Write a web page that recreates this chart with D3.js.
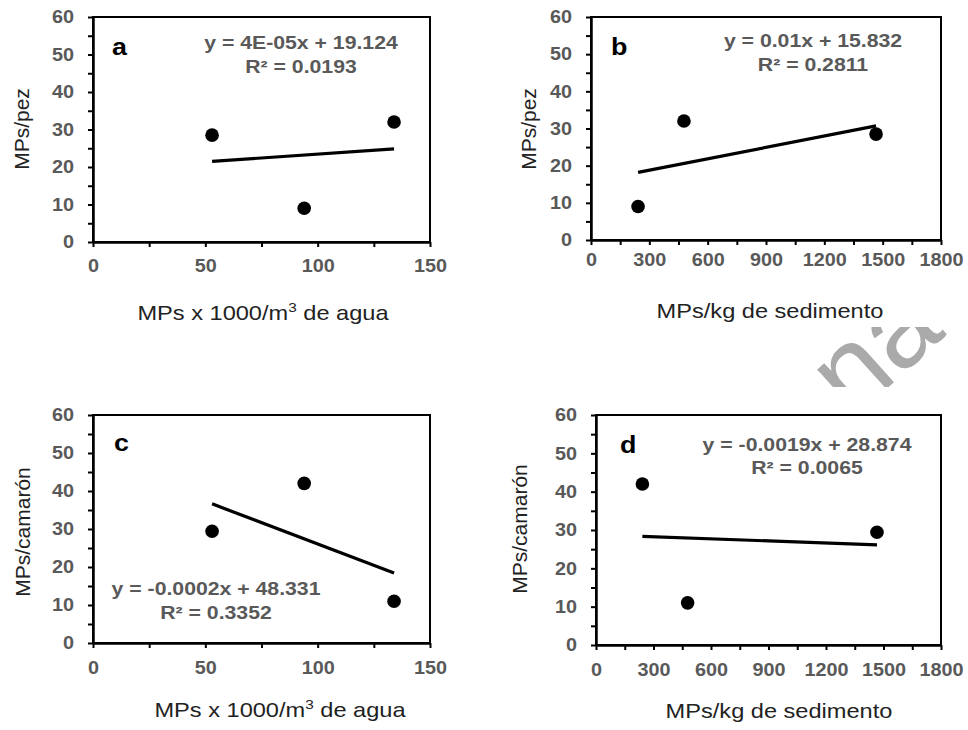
<!DOCTYPE html>
<html>
<head>
<meta charset="utf-8">
<script src="https://cdn.jsdelivr.net/npm/d3@7"></script>
<style>
  body { margin: 0; background: #fff; }
  svg { display: block; font-family: "Liberation Sans", Arial, sans-serif; }
</style>
</head>
<body>
<div id="chart"></div>
<script>
// datos por sitio (sitio 1, 2, 3)
const aguaMPs = [53, 94, 134];          // MPs x 1000/m3 de agua
const sedimentoMPs = [1466, 242, 478];  // MPs/kg de sedimento
const pezMPs = [28.5, 9, 32];           // MPs/pez
const camaronMPs = [29.4, 42, 11];      // MPs/camarón

const etiquetas = ["a", "b", "c", "d"];
const ecuaciones = ["y = 4E-05x + 19.124", "y = 0.01x + 15.832", "y = -0.0002x + 48.331", "y = -0.0019x + 28.874"];
const r2 = ["R² = 0.0193", "R² = 0.2811", "R² = 0.3352", "R² = 0.0065"];
const yTicks = [0, 10, 20, 30, 40, 50, 60];
const xTicksAgua = [0, 50, 100, 150];
const xTicksSed = [0, 300, 600, 900, 1200, 1500, 1800];

const width = 968, height = 730;
const svg = d3.select("#chart").append("svg")
    .attr("width", width).attr("height", height);

// marca de agua (apenas visible entre los paneles)
svg.append("clipPath").attr("id", "wm")
    .append("rect").attr("x", 740).attr("y", 327).attr("width", 228).attr("height", 60);
svg.append("g").attr("clip-path", "url(#wm)")
    .append("text")
    .attr("transform", "translate(852,420) rotate(-42)")
    .attr("font-size", 115).attr("fill", "#aaa")
    .text("na");

const paneles = [
    {x: aguaMPs, y: pezMPs, xTicks: xTicksAgua, xStep: 25, yTitle: "MPs/pez", agua: true, pad: 12,
     l: 93, r: 430, t: 17, b: 242, eq: [301, 49, 73], lab: [112, 55], yT: [29, 129], xT: [263, 320]},
    {x: sedimentoMPs, y: pezMPs, xTicks: xTicksSed, xStep: 150, yTitle: "MPs/pez", agua: false, pad: 8.5,
     l: 591, r: 941, t: 17, b: 240, eq: [813, 47, 71], lab: [611, 55], yT: [536, 129], xT: [770, 318]},
    {x: aguaMPs, y: camaronMPs, xTicks: xTicksAgua, xStep: 25, yTitle: "MPs/camarón", agua: true, pad: 13.5,
     l: 93, r: 430, t: 415, b: 643, eq: [216, 595, 619], lab: [114, 451], yT: [30, 532], xT: [280, 717]},
    {x: sedimentoMPs, y: camaronMPs, xTicks: xTicksSed, xStep: 150, yTitle: "MPs/camarón", agua: false, pad: 13,
     l: 596, r: 941, t: 415, b: 645, eq: [807, 451, 474], lab: [620, 453], yT: [527, 529], xT: [779, 718]}
];

// recta de mínimos cuadrados
function ajuste(xs, ys) {
    const mx = d3.mean(xs), my = d3.mean(ys);
    const sxy = d3.sum(xs, (x, i) => (x - mx) * (ys[i] - my));
    const sxx = d3.sum(xs, x => (x - mx) * (x - mx));
    const m = sxy / sxx;
    return x => my + m * (x - mx);
}

paneles.forEach((p, i) => {
    const xMax = d3.max(p.xTicks);
    const xScale = d3.scaleLinear().domain([0, xMax]).range([p.l, p.r]);
    const yScale = d3.scaleLinear().domain([0, 60]).range([p.b, p.t]);
    const g = svg.append("g");

    // marco
    g.append("rect")
        .attr("x", p.l).attr("y", p.t)
        .attr("width", p.r - p.l).attr("height", p.b - p.t)
        .attr("fill", "none").attr("stroke", "#000").attr("stroke-width", 2);

    // eje y: marcas cada 5, etiquetas cada 10
    const yAxis = g.append("g")
        .attr("transform", `translate(${p.l},0)`)
        .call(d3.axisLeft(yScale)
            .tickValues(d3.range(0, 61, 5))
            .tickFormat(d => yTicks.includes(d) ? d : "")
            .tickSize(5).tickSizeOuter(0).tickPadding(12.3));

    // eje x: marcas cada paso, etiquetas cada dos pasos
    const xAxis = g.append("g")
        .attr("transform", `translate(0,${p.b})`)
        .call(d3.axisBottom(xScale)
            .tickValues(d3.range(0, xMax + 1, p.xStep))
            .tickFormat(d => p.xTicks.includes(d) ? d : "")
            .tickSize(5).tickSizeOuter(0).tickPadding(p.pad));

    [yAxis, xAxis].forEach(ax => {
        ax.select(".domain").attr("stroke", "#000").attr("stroke-width", 2.5);
        ax.selectAll(".tick line").attr("stroke", "#000").attr("stroke-width", 2);
        ax.selectAll(".tick text")
            .attr("font-family", "Liberation Sans, Arial, sans-serif")
            .attr("font-size", 18).attr("font-weight", "bold")
            .attr("fill", "#595959")
            .attr("transform", "scale(1.1,1)");
    });

    // recta de tendencia
    const f = ajuste(p.x, p.y);
    const [x0, x1] = d3.extent(p.x);
    g.append("line")
        .attr("x1", xScale(x0)).attr("y1", yScale(f(x0)))
        .attr("x2", xScale(x1)).attr("y2", yScale(f(x1)))
        .attr("stroke", "#000").attr("stroke-width", 3.2);

    // puntos
    g.selectAll("circle").data(p.x.map((x, k) => [x, p.y[k]]))
        .enter().append("circle")
        .attr("cx", d => xScale(d[0]))
        .attr("cy", d => yScale(d[1]))
        .attr("r", 6.8).attr("fill", "#000");

    // letra del panel
    g.append("text")
        .attr("transform", `translate(${p.lab[0]},${p.lab[1]}) scale(1.12,1)`)
        .attr("font-size", 24).attr("font-weight", "bold").attr("fill", "#000")
        .text(etiquetas[i]);

    // ecuación y R²
    [ecuaciones[i], r2[i]].forEach((t, k) => {
        g.append("text")
            .attr("transform", `translate(${p.eq[0]},${p.eq[k + 1]}) scale(1.18,1)`)
            .attr("text-anchor", "middle")
            .attr("font-size", 18).attr("font-weight", "bold").attr("fill", "#595959")
            .text(t);
    });

    // título eje y
    g.append("text")
        .attr("transform", `translate(${p.yT[0]},${p.yT[1]}) rotate(-90)`)
        .attr("text-anchor", "middle")
        .attr("font-size", 21).attr("fill", "#222")
        .text(p.yTitle);

    // título eje x
    const xt = g.append("text")
        .attr("transform", `translate(${p.xT[0]},${p.xT[1]}) scale(1.18,1)`)
        .attr("text-anchor", "middle")
        .attr("font-size", 20).attr("fill", "#222");
    if (p.agua) {
        xt.append("tspan").text("MPs x 1000/m");
        xt.append("tspan").attr("font-size", 13).attr("dy", -8).text("3");
        xt.append("tspan").attr("dy", 8).text(" de agua");
    } else {
        xt.text("MPs/kg de sedimento");
    }
});
</script>
</body>
</html>
